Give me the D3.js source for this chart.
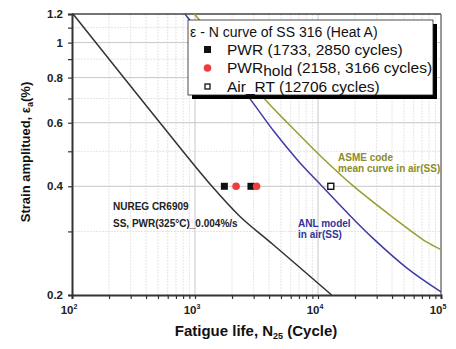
<!DOCTYPE html>
<html>
<head>
<meta charset="utf-8">
<style>
body { margin: 0; background: #fff; }
text { font-family: "Liberation Sans", Arial, sans-serif; }
.tick-lbl { font-size: 11.5px; font-weight: bold; fill: #222; }
.axis-title { font-weight: bold; fill: #111; }
.note { font-size: 10px; font-weight: bold; }
.lg-item { font-size: 15.5px; fill: #111; }
</style>
</head>
<body>
<script src="https://cdn.jsdelivr.net/npm/d3@7"></script>
<script>
// curves: [cycles, strain amplitude %]
var nuregCurve = [[102,1.2],[519,0.6],[1374,0.4],[2320,0.33],[4306,0.276],[12900,0.2]];
var anlCurve = [[829,1.2],[2850,0.693],[4400,0.567],[7000,0.468],[10900,0.399],[17000,0.34],[27900,0.2875],[52900,0.2375],[100000,0.204]];
var asmeCurve = [[990,1.2],[3750,0.693],[5880,0.591],[10900,0.479],[19000,0.403],[38480,0.333],[76940,0.28],[100000,0.267]];

// test points
var pwrPts = [1733, 2850];
var pwrHoldPts = [2158, 3166];
var airRtPts = [12706];
var testStrain = 0.4;

var xTicks = [100, 1000, 10000, 100000];
var xTickExp = ["2", "3", "4", "5"];
var yTicks = [0.2, 0.4, 0.6, 0.8, 1, 1.2];
var yMinor = [0.3, 0.5, 0.7, 0.9, 1.1];

var width = 456, height = 349;
var pL = 72, pR = 441, pT = 14, pB = 295;

var svg = d3.select("body").append("svg")
    .attr("width", width)
    .attr("height", height);

var x = d3.scaleLog().domain([100, 100000]).range([pL, pR]);
var y = d3.scaleLog().domain([0.2, 1.2]).range([pB, pT]);

// minor x values 2..9 per decade
var xMinor = [];
[100, 1000, 10000].forEach(function(d) {
  for (var k = 2; k <= 9; k++) xMinor.push(d * k);
});

// grid
var grid = svg.append("g");
grid.selectAll("line.xm").data(xMinor).enter().append("line")
    .attr("x1", function(d) { return x(d); }).attr("x2", function(d) { return x(d); })
    .attr("y1", pT).attr("y2", pB)
    .attr("stroke", "#e4e4e4").attr("stroke-width", 1).attr("stroke-dasharray", "2,1");
grid.selectAll("line.ym").data(yMinor).enter().append("line")
    .attr("x1", pL).attr("x2", pR)
    .attr("y1", function(d) { return y(d); }).attr("y2", function(d) { return y(d); })
    .attr("stroke", "#e4e4e4").attr("stroke-width", 1).attr("stroke-dasharray", "2,1");
grid.selectAll("line.xM").data(xTicks.slice(1, 3)).enter().append("line")
    .attr("x1", function(d) { return x(d); }).attr("x2", function(d) { return x(d); })
    .attr("y1", pT).attr("y2", pB)
    .attr("stroke", "#c8c8c8").attr("stroke-width", 1);
grid.selectAll("line.yM").data([0.4, 0.6, 0.8, 1]).enter().append("line")
    .attr("x1", pL).attr("x2", pR)
    .attr("y1", function(d) { return y(d); }).attr("y2", function(d) { return y(d); })
    .attr("stroke", "#c8c8c8").attr("stroke-width", 1);

// frame
svg.append("line").attr("x1", pL).attr("x2", pR).attr("y1", pT).attr("y2", pT)
    .attr("stroke", "#444").attr("stroke-width", 1.5);
svg.append("line").attr("x1", pR).attr("x2", pR).attr("y1", pT).attr("y2", pB)
    .attr("stroke", "#777").attr("stroke-width", 1.5);

// curves
var line = d3.line()
    .x(function(d) { return x(d[0]); })
    .y(function(d) { return y(d[1]); })
    .curve(d3.curveCatmullRom.alpha(0.5));

svg.append("path").datum(nuregCurve).attr("d", line)
    .attr("fill", "none").attr("stroke", "#333").attr("stroke-width", 1.5);
svg.append("path").datum(anlCurve).attr("d", line)
    .attr("fill", "none").attr("stroke", "#3c3ca8").attr("stroke-width", 1.5);
svg.append("path").datum(asmeCurve).attr("d", line)
    .attr("fill", "none").attr("stroke", "#9c9c34").attr("stroke-width", 1.5);

// axes
var xAxis = svg.append("g").attr("transform", "translate(0," + pB + ")")
    .call(d3.axisBottom(x).tickValues(xTicks.concat(xMinor)).tickSize(4).tickFormat(""));
xAxis.select(".domain").attr("stroke", "#333").attr("stroke-width", 2);
xAxis.selectAll(".tick line").attr("stroke", "#333").attr("stroke-width", 1.2);

var yAxis = svg.append("g").attr("transform", "translate(" + pL + ",0)")
    .call(d3.axisLeft(y).tickValues(yTicks.concat(yMinor)).tickSize(4).tickFormat(""));
yAxis.select(".domain").attr("stroke", "#333").attr("stroke-width", 2);
yAxis.selectAll(".tick line").attr("stroke", "#333").attr("stroke-width", 1.2);

// tick labels
svg.selectAll("text.ylbl").data(yTicks).enter().append("text")
    .attr("class", "tick-lbl")
    .attr("x", pL - 9).attr("y", function(d) { return y(d) + 4; })
    .attr("text-anchor", "end")
    .text(function(d) { return d; });

var xl = svg.selectAll("text.xlbl").data(xTicks).enter().append("text")
    .attr("class", "tick-lbl")
    .attr("x", function(d) { return x(d) - 3; }).attr("y", pB + 19)
    .attr("text-anchor", "middle");
xl.append("tspan").text("10");
xl.append("tspan").attr("dy", -5).style("font-size", "7px").text(function(d, i) { return xTickExp[i]; });

// axis titles
var xt = svg.append("text").attr("class", "axis-title").style("font-size", "15px")
    .attr("x", 256).attr("y", 336).attr("text-anchor", "middle");
xt.append("tspan").text("Fatigue life, N");
xt.append("tspan").attr("dy", 3).style("font-size", "9px").text("25");
xt.append("tspan").attr("dy", -3).text(" (Cycle)");

var yt = svg.append("text").attr("class", "axis-title").style("font-size", "13px")
    .attr("transform", "translate(30,152) rotate(-90)")
    .attr("text-anchor", "middle");
yt.append("tspan").text("Strain amplitued, \u03b5");
yt.append("tspan").attr("dy", 3).style("font-size", "9px").text("a");
yt.append("tspan").attr("dy", -3).text("(%)");

// curve notes
var n1 = svg.append("text").attr("class", "note").attr("fill", "#222");
n1.append("tspan").attr("x", 113).attr("y", 210).text("NUREG CR6909");
n1.append("tspan").attr("x", 113).attr("y", 227).text("SS, PWR(325\u00b0C)_0.004%/s");

var n2 = svg.append("text").attr("class", "note").attr("fill", "#33339a");
n2.append("tspan").attr("x", 298).attr("y", 227).text("ANL model");
n2.append("tspan").attr("x", 298).attr("y", 238).text("in air(SS)");

var n3 = svg.append("text").attr("class", "note").attr("fill", "#8c8c28");
n3.append("tspan").attr("x", 338).attr("y", 161).text("ASME code");
n3.append("tspan").attr("x", 338).attr("y", 172).text("mean curve in air(SS)");

// test markers
svg.selectAll("rect.pwr").data(pwrPts).enter().append("rect")
    .attr("x", function(d) { return x(d) - 3.5; }).attr("y", y(testStrain) - 3.5)
    .attr("width", 7).attr("height", 7).attr("fill", "#111");
svg.selectAll("circle.hold").data(pwrHoldPts).enter().append("circle")
    .attr("cx", function(d) { return x(d); }).attr("cy", y(testStrain))
    .attr("r", 3.8).attr("fill", "#f03c3c");
svg.selectAll("rect.air").data(airRtPts).enter().append("rect")
    .attr("x", function(d) { return x(d) - 3; }).attr("y", y(testStrain) - 3)
    .attr("width", 6).attr("height", 6).attr("fill", "#fff")
    .attr("stroke", "#111").attr("stroke-width", 1.4);

// legend
var lg = svg.append("g").attr("transform", "translate(188,20)");
lg.append("rect").attr("x", 4).attr("y", 4).attr("width", 245).attr("height", 75).attr("fill", "#000");
lg.append("rect").attr("width", 245).attr("height", 75).attr("fill", "#fff")
    .attr("stroke", "#222").attr("stroke-width", 0.8);
lg.append("text").attr("x", 2).attr("y", 17).style("font-size", "14px").attr("fill", "#111")
    .text("\u03b5 - N curve of SS 316 (Heat A)");
lg.append("rect").attr("x", 16).attr("y", 26).attr("width", 7).attr("height", 7).attr("fill", "#111");
lg.append("text").attr("class", "lg-item").attr("x", 39).attr("y", 35)
    .text("PWR (1733, 2850 cycles)");
lg.append("circle").attr("cx", 19.5).attr("cy", 48).attr("r", 3.8).attr("fill", "#f03c3c");
var hl = lg.append("text").attr("class", "lg-item").attr("x", 39).attr("y", 53);
hl.append("tspan").text("PWR");
hl.append("tspan").attr("dy", 3).text("hold");
hl.append("tspan").attr("dy", -3).text(" (2158, 3166 cycles)");
lg.append("rect").attr("x", 17).attr("y", 64).attr("width", 5).attr("height", 5).attr("fill", "#fff")
    .attr("stroke", "#111").attr("stroke-width", 1.3);
lg.append("text").attr("class", "lg-item").attr("x", 39).attr("y", 72)
    .text("Air_RT (12706 cycles)");
</script>
</body>
</html>
